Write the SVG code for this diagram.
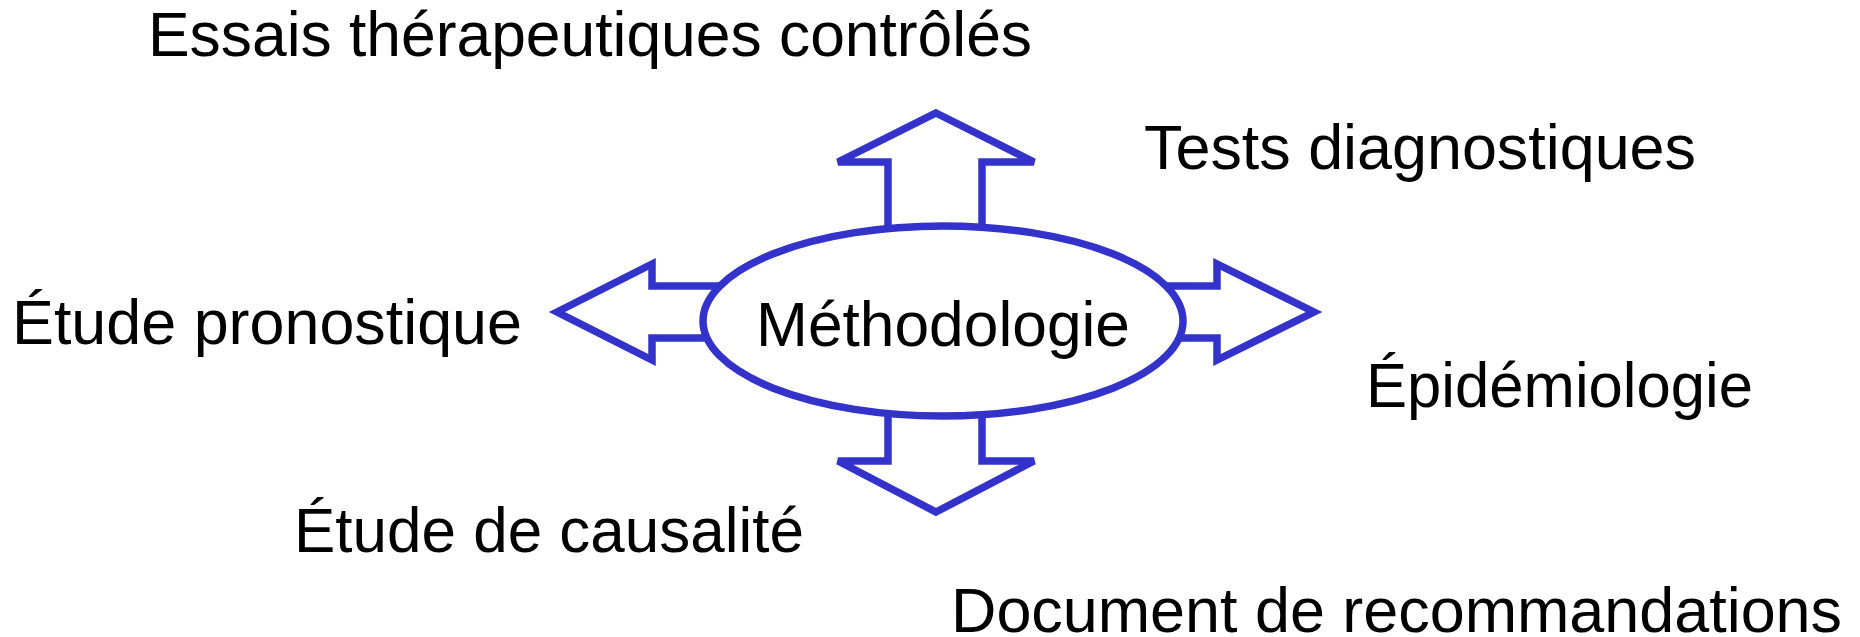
<svg xmlns="http://www.w3.org/2000/svg" width="1860" height="637" viewBox="0 0 1860 637">
<style>
.arr{fill:#fff;stroke:#3333CC;stroke-width:7.5;stroke-linejoin:miter}
.node{fill:#fff;stroke:#3333CC;stroke-width:7.5}
text{font-family:"Liberation Sans",Arial,sans-serif;font-size:63px;fill:#000}
</style>
<rect width="1860" height="637" fill="#fff"/>
<g id="connectors">
<polygon class="arr" points="936,113 1034,162 982,162 982,240 888,240 888,162 838,162"/>
<polygon class="arr" points="936,512 1034,461 982,461 982,400 888,400 888,461 838,461"/>
<polygon class="arr" points="557,312 652,264 652,286 740,286 740,338 652,338 652,360"/>
<polygon class="arr" points="1314,312 1217,264 1217,286 1150,286 1150,338 1217,338 1217,360"/>
</g>
<g id="node-methodologie">
<ellipse class="node" cx="943" cy="321" rx="240" ry="95"/>
<text x="756" y="346" textLength="374" lengthAdjust="spacingAndGlyphs">Méthodologie</text>
</g>
<g id="node-essais"><text x="148" y="56" textLength="884" lengthAdjust="spacingAndGlyphs">Essais thérapeutiques contrôlés</text></g>
<g id="node-tests"><text x="1144" y="169" textLength="552" lengthAdjust="spacingAndGlyphs">Tests diagnostiques</text></g>
<g id="node-pronostique"><text x="12" y="344" textLength="510" lengthAdjust="spacingAndGlyphs">Étude pronostique</text></g>
<g id="node-epidemiologie"><text x="1366" y="407" textLength="387" lengthAdjust="spacingAndGlyphs">Épidémiologie</text></g>
<g id="node-causalite"><text x="294" y="552" textLength="510" lengthAdjust="spacingAndGlyphs">Étude de causalité</text></g>
<g id="node-document"><text x="951" y="632" textLength="891" lengthAdjust="spacingAndGlyphs">Document de recommandations</text></g>
</svg>
